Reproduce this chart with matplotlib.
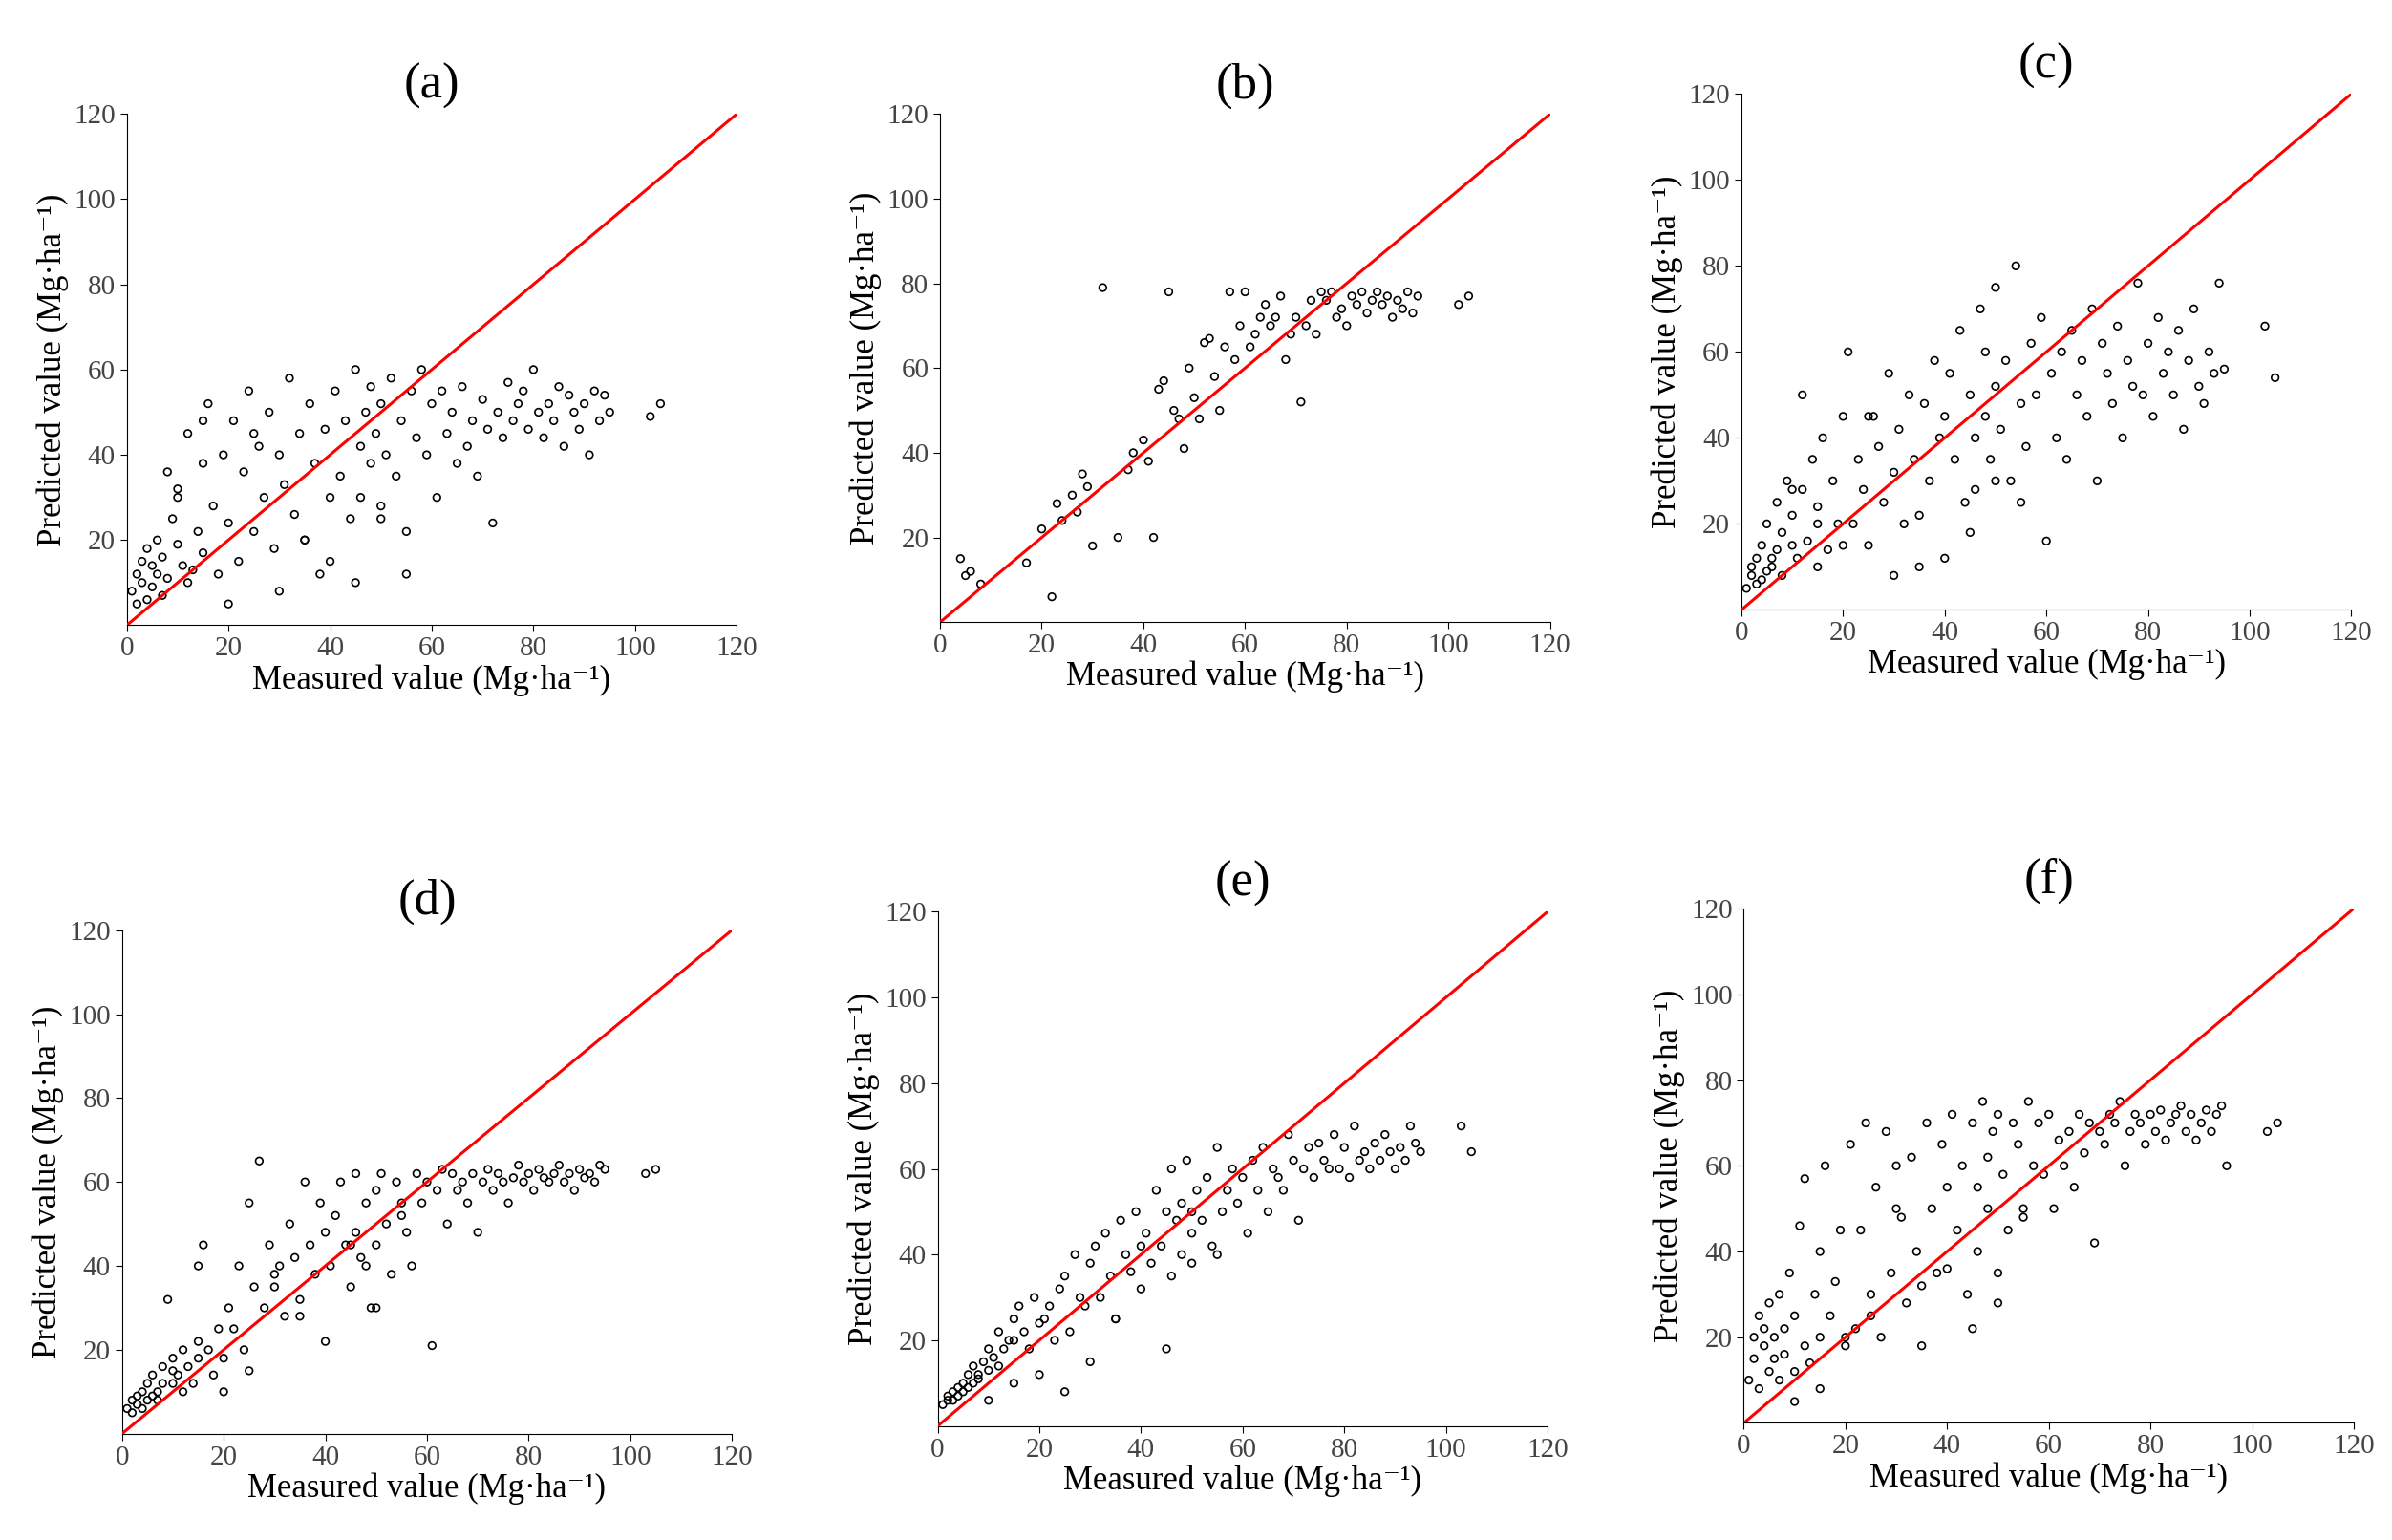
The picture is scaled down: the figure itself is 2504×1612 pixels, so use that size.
import matplotlib
matplotlib.use("Agg")
import matplotlib.pyplot as plt

plt.rcParams["font.family"] = ["Liberation Serif", "DejaVu Serif"]

measured = [1, 2, 2, 3, 3, 4, 4, 5, 5, 6, 6, 7, 7, 8, 8, 9, 10, 10, 11, 12, 12, 13, 14, 15, 15, 16, 17, 18, 19, 20,
            21, 22, 23, 24, 25, 26, 27, 28, 29, 30, 31, 32, 33, 34, 35, 36, 37, 38, 39, 40,
            41, 42, 43, 44, 45, 46, 46, 47, 48, 48, 49, 50, 50, 51, 52, 53, 54, 55, 56, 57,
            58, 59, 60, 61, 62, 63, 64, 65, 66, 67, 68, 69, 70, 71, 72, 73, 74, 75, 76, 77,
            78, 79, 80, 81, 82, 83, 84, 85, 86, 87, 88, 89, 90, 91, 92, 93, 94, 95, 103, 105,
            30, 35, 40, 45, 50, 55, 25, 20, 15, 10]

pred_a = [8, 12, 5, 15, 10, 6, 18, 9, 14, 12, 20, 7, 16, 36, 11, 25, 19, 30, 14, 10, 45, 13, 22, 38, 17, 52, 28, 12, 40, 24,
          48, 15, 36, 55, 22, 42, 30, 50, 18, 40, 33, 58, 26, 45, 20, 52, 38, 12, 46, 30,
          55, 35, 48, 25, 60, 42, 30, 50, 38, 56, 45, 28, 52, 40, 58, 35, 48, 22, 55, 44,
          60, 40, 52, 30, 55, 45, 50, 38, 56, 42, 48, 35, 53, 46, 24, 50, 44, 57, 48, 52,
          55, 46, 60, 50, 44, 52, 48, 56, 42, 54, 50, 46, 52, 40, 55, 48, 54, 50, 49, 52,
          8, 20, 15, 10, 25, 12, 45, 5, 48, 32]

meas_b = [4, 5, 6, 8, 17, 20, 22, 23, 24, 26, 27, 28, 29, 30, 32, 35, 37, 38, 40, 41, 42, 43, 44, 45, 46,
          47, 48, 49, 50, 51] + list(range(52, 95)) + [102, 104]
pred_b = [15, 11, 12, 9, 14, 22, 6, 28, 24, 30, 26, 35, 32, 18, 79, 20, 36, 40, 43, 38, 20, 55, 57, 78, 50,
          48, 41, 60, 53, 48, 66, 67, 58, 50, 65, 78, 62, 70, 78, 65, 68, 72, 75, 70, 72, 77, 62, 68, 72, 52,
          70, 76, 68, 78, 76, 78, 72, 74, 70, 77, 75, 78, 73, 76, 78, 75, 77, 72, 76, 74, 78, 73, 77, 75, 77]

pred_c = [5, 8, 10, 6, 12, 7, 15, 9, 20, 12, 10, 14, 25, 18, 8, 30, 15, 22, 12, 50, 28, 16, 35, 10, 24, 40, 14, 30, 20, 45,
          60, 20, 35, 28, 15, 45, 38, 25, 55, 32, 42, 20, 50, 35, 10, 48, 30, 58, 40, 45,
          55, 35, 65, 25, 50, 40, 28, 70, 45, 60, 35, 52, 75, 42, 58, 30, 80, 48, 38, 62,
          50, 68, 16, 55, 40, 60, 35, 65, 50, 58, 45, 70, 30, 62, 55, 48, 66, 40, 58, 52,
          76, 50, 62, 45, 68, 55, 60, 50, 65, 42, 58, 70, 52, 48, 60, 55, 76, 56, 66, 54,
          8, 22, 12, 18, 30, 25, 45, 15, 20, 28]

pred_d = [6, 5, 8, 7, 9, 6, 10, 8, 12, 9, 14, 10, 8, 16, 12, 32, 15, 18, 14, 10, 20, 16, 12, 22, 18, 45, 20, 14, 25, 18,
          30, 25, 40, 20, 55, 35, 65, 30, 45, 38, 40, 28, 50, 42, 32, 60, 45, 38, 55, 48,
          40, 52, 60, 45, 35, 62, 48, 42, 55, 40, 30, 58, 45, 62, 50, 38, 60, 52, 48, 40,
          62, 55, 60, 21, 58, 63, 50, 62, 58, 60, 55, 62, 48, 60, 63, 58, 62, 60, 55, 61,
          64, 60, 62, 58, 63, 61, 60, 62, 64, 60, 62, 58, 63, 61, 62, 60, 64, 63, 62, 63,
          35, 28, 22, 45, 30, 55, 15, 10, 40, 12]

pred_e = [5, 6, 7, 6, 8, 7, 9, 8, 10, 9, 12, 10, 14, 11, 12, 15, 13, 18, 16, 14, 22, 18, 20, 25, 20, 28, 22, 18, 30, 24,
          25, 28, 20, 32, 35, 22, 40, 30, 28, 38, 42, 30, 45, 35, 25, 48, 40, 36, 50, 42,
          45, 38, 55, 42, 50, 60, 35, 48, 52, 40, 62, 45, 50, 55, 48, 58, 42, 65, 50, 55,
          60, 52, 58, 45, 62, 55, 65, 50, 60, 58, 55, 68, 62, 48, 60, 65, 58, 66, 62, 60,
          68, 60, 65, 58, 70, 62, 64, 60, 66, 62, 68, 64, 60, 65, 62, 70, 66, 64, 70, 64,
          15, 25, 32, 18, 38, 40, 8, 12, 10, 6]

pred_f = [10, 20, 15, 25, 8, 18, 22, 12, 28, 15, 20, 10, 30, 16, 22, 35, 12, 25, 46, 18, 57, 14, 30, 40, 20, 60, 25, 33, 45, 18,
          65, 22, 45, 70, 30, 55, 20, 68, 35, 60, 48, 28, 62, 40, 18, 70, 50, 35, 65, 55,
          72, 45, 60, 30, 70, 55, 40, 75, 62, 50, 68, 35, 72, 58, 45, 70, 65, 50, 75, 60,
          70, 58, 72, 50, 66, 60, 68, 55, 72, 63, 70, 42, 68, 65, 72, 70, 75, 60, 68, 72,
          70, 65, 72, 68, 73, 66, 70, 72, 74, 68, 72, 66, 70, 73, 68, 72, 74, 60, 68, 70,
          50, 32, 36, 22, 28, 48, 25, 20, 8, 5]

panels = [
    ("(a)", measured, pred_a, [0.053, 0.594, 0.255, 0.332]),
    ("(b)", meas_b, pred_b, [0.393, 0.596, 0.255, 0.330]),
    ("(c)", measured, pred_c, [0.728, 0.604, 0.255, 0.335]),
    ("(d)", measured, pred_d, [0.051, 0.069, 0.255, 0.327]),
    ("(e)", measured, pred_e, [0.392, 0.074, 0.255, 0.334]),
    ("(f)", measured, pred_f, [0.729, 0.076, 0.255, 0.334]),
]

fig = plt.figure(figsize=(25.04, 16.12), dpi=100)
for title, xs, ys, rect in panels:
    n = min(len(xs), len(ys))
    ax = fig.add_axes(rect)
    ax.scatter(xs[:n], ys[:n], s=30, facecolors="none", edgecolors="black", linewidths=1.2, zorder=3)
    ax.plot([0, 120], [0, 120], color="red", lw=2.2, zorder=4)
    ax.set_xlim(0, 120)
    ax.set_ylim(0, 120)
    ax.set_xticks(range(0, 121, 20))
    ax.set_yticks(range(20, 121, 20))
    ax.spines["top"].set_visible(False)
    ax.spines["right"].set_visible(False)
    ax.tick_params(labelsize=21, labelcolor="#444444", length=5)
    ax.set_xlabel("Measured value (Mg·ha⁻¹)", fontsize=25, labelpad=2)
    ax.set_ylabel("Predicted value (Mg·ha⁻¹)", fontsize=25, labelpad=4)
    ax.set_title(title, fontsize=38, pad=12)

fig.savefig("out.png", dpi=100)
